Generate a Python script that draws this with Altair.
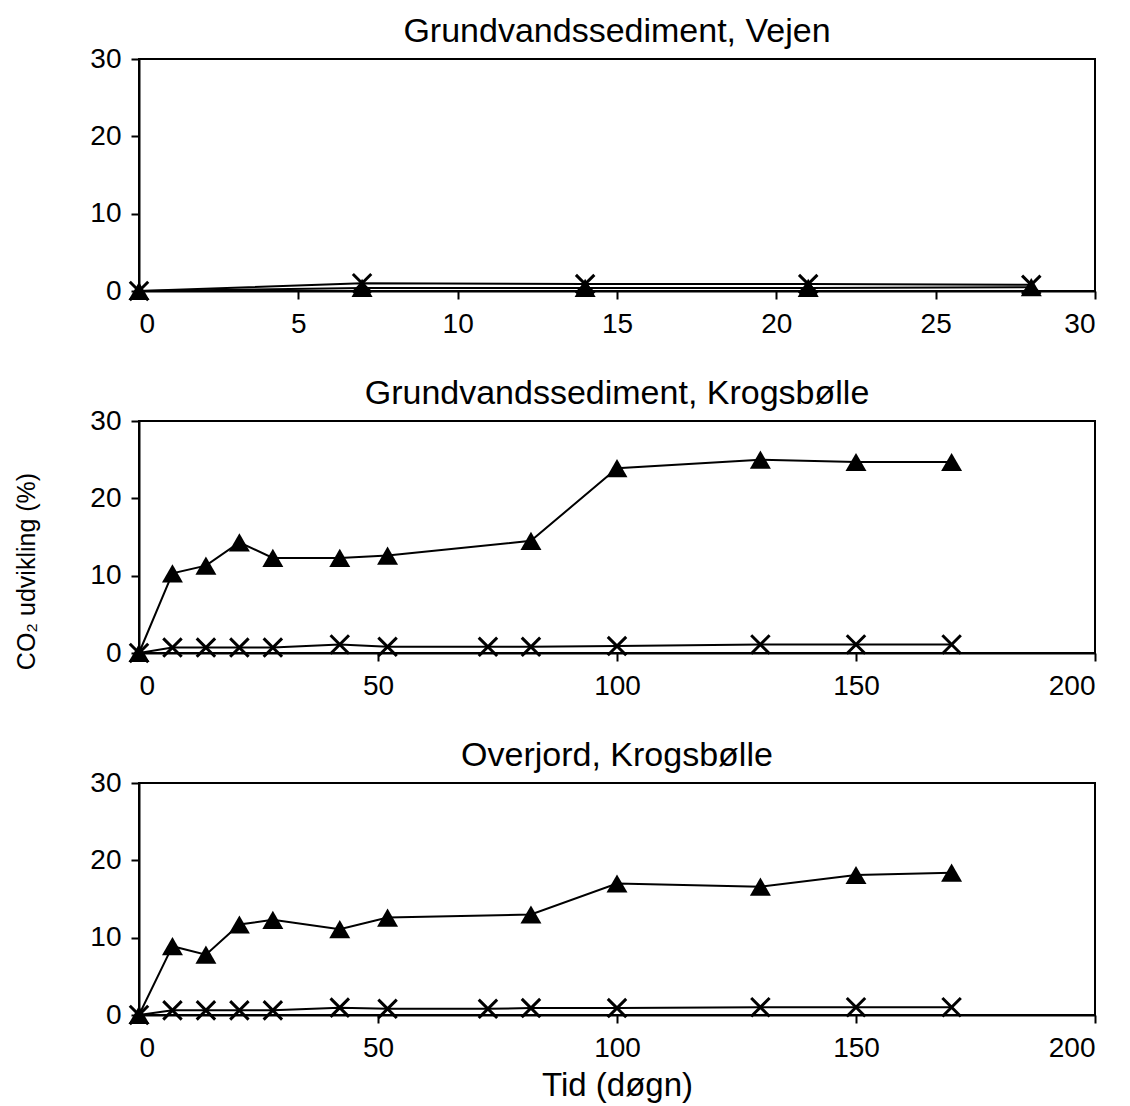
import altair as alt
import pandas as pd

FONT = "Liberation Sans"

# Panel 1: Grundvandssediment, Vejen
p1_days = [0, 7, 14, 21, 28]
p1_tri = [0.0, 0.4, 0.4, 0.4, 0.5]
p1_x = [0.0, 1.0, 0.9, 0.9, 0.8]

# Panel 2: Grundvandssediment, Krogsbølle
p2_days = [0, 7, 14, 21, 28, 42, 52, 82, 100, 130, 150, 170]
p2_tri = [0.0, 10.3, 11.3, 14.3, 12.3, 12.3, 12.6, 14.5, 23.9, 25.0, 24.7, 24.7]
p2_xdays = [0, 7, 14, 21, 28, 42, 52, 73, 82, 100, 130, 150, 170]
p2_x = [0.0, 0.7, 0.7, 0.7, 0.7, 1.1, 0.8, 0.8, 0.8, 0.9, 1.1, 1.1, 1.1]

# Panel 3: Overjord, Krogsbølle
p3_days = [0, 7, 14, 21, 28, 42, 52, 82, 100, 130, 150, 170]
p3_tri = [0.0, 8.9, 7.8, 11.7, 12.3, 11.1, 12.6, 13.0, 17.0, 16.6, 18.1, 18.4]
p3_xdays = [0, 7, 14, 21, 28, 42, 52, 73, 82, 100, 130, 150, 170]
p3_x = [0.0, 0.6, 0.6, 0.6, 0.6, 0.95, 0.8, 0.8, 0.9, 0.9, 1.0, 1.0, 1.0]

titles = ["Grundvandssediment, Vejen", "Grundvandssediment, Krogsbølle", "Overjord, Krogsbølle"]
y_ticks = [0, 10, 20, 30]
x_ticks_1 = [0, 5, 10, 15, 20, 25, 30]
x_ticks_2 = [0, 50, 100, 150, 200]

X_SHAPE = "M-1,-1L1,1M1,-1L-1,1"


def panel(days_t, tri, days_x, xs, title, xmax, xticks, ytitle=None, xtitle=None):
    dt = pd.DataFrame({"d": days_t, "v": tri})
    dx = pd.DataFrame({"d": days_x, "v": xs})
    xaxis_kw = dict(values=xticks, format="d", title=xtitle if xtitle else None)
    yaxis_kw = dict(values=y_ticks, format="d", title=ytitle if ytitle else None)
    if ytitle:
        yaxis_kw["titleY"] = 150
    xenc = alt.X("d:Q", scale=alt.Scale(domain=[0, xmax], nice=False), axis=alt.Axis(**xaxis_kw))
    yenc = alt.Y("v:Q", scale=alt.Scale(domain=[0, 30], nice=False), axis=alt.Axis(**yaxis_kw))
    tline = alt.Chart(dt).mark_line(color="black", strokeWidth=2).encode(x=xenc, y=yenc)
    tpts = alt.Chart(dt).mark_point(shape="triangle-up", filled=True, color="black", size=440, opacity=1).encode(x=xenc, y=yenc)
    xline = alt.Chart(dx).mark_line(color="black", strokeWidth=2).encode(x=xenc, y=yenc)
    xpts = alt.Chart(dx).mark_point(shape=X_SHAPE, filled=False, color="black", strokeWidth=3, size=340, opacity=1).encode(x=xenc, y=yenc)
    return alt.layer(tline, xline, tpts, xpts).properties(
        width=956, height=232,
        title=alt.TitleParams(title, font=FONT, fontSize=34, fontWeight="normal", color="black",
                              anchor="middle", frame="group", offset=-4),
    )


c1 = panel(p1_days, p1_tri, p1_days, p1_x, titles[0], 30, x_ticks_1)
c2 = panel(p2_days, p2_tri, p2_xdays, p2_x, titles[1], 200, x_ticks_2, ytitle="CO₂ udvikling (%)")
c3 = panel(p3_days, p3_tri, p3_xdays, p3_x, titles[2], 200, x_ticks_2, xtitle="Tid (døgn)")

chart = alt.vconcat(
    c1, c2, c3, spacing=37, background="white",
    padding={"left": 5, "top": 6, "right": 5, "bottom": 5},
).configure_view(
    stroke="black", strokeWidth=2
).configure_axis(
    domainColor="black", domainWidth=2, tickColor="black", tickWidth=2, tickSize=8,
    grid=False, labelFont=FONT, labelFontSize=28, labelColor="black",
    titleFont=FONT, titleFontWeight="normal", titleColor="black",
).configure_axisY(
    labelPadding=10, titlePadding=50, titleFontSize=25
).configure_axisX(
    labelPadding=11, titlePadding=7, titleFontSize=33
)

chart.save("out.html", embed_options={"renderer": "svg", "actions": False})
